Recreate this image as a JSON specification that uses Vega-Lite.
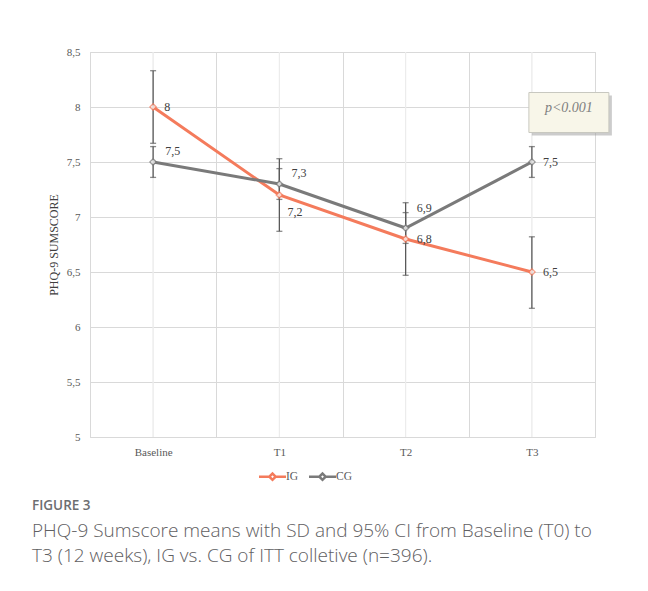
{
  "$schema": "https://vega.github.io/schema/vega-lite/v6.json",
  "width": 505,
  "height": 385,
  "autosize": "none",
  "padding": {"left": 90, "top": 52, "right": 53, "bottom": 154},
  "background": "white",
  "config": {
    "view": {"stroke": "#d9d9d9", "strokeWidth": 1},
    "font": "Liberation Serif",
    "locale": {"number": {"decimal": ",", "thousands": ".", "grouping": [3], "currency": ["", " €"]}}
  },
  "title": {
    "text": "FIGURE 3",
    "subtitle": ["PHQ-9 Sumscore means with SD and 95% CI from Baseline (T0) to", "T3 (12 weeks), IG vs. CG of ITT colletive (n=396)."],
    "orient": "bottom",
    "anchor": "start",
    "frame": "group",
    "dx": -58,
    "offset": 14,
    "font": "Open Sans",
    "fontSize": 13.5,
    "fontWeight": 600,
    "color": "#6d6e71",
    "subtitleFont": "Open Sans",
    "subtitleFontSize": 19,
    "subtitleFontWeight": 300,
    "subtitleColor": "#5f6062",
    "subtitleLineHeight": 25,
    "subtitlePadding": 9
  },
  "data": {
    "values": [
      {"time": "Baseline", "group": "IG", "mean": 8.0, "lower": 7.67, "upper": 8.33},
      {"time": "T1", "group": "IG", "mean": 7.2, "lower": 6.87, "upper": 7.53},
      {"time": "T2", "group": "IG", "mean": 6.8, "lower": 6.47, "upper": 7.13},
      {"time": "T3", "group": "IG", "mean": 6.5, "lower": 6.17, "upper": 6.82},
      {"time": "Baseline", "group": "CG", "mean": 7.5, "lower": 7.36, "upper": 7.64},
      {"time": "T1", "group": "CG", "mean": 7.3, "lower": 7.16, "upper": 7.44},
      {"time": "T2", "group": "CG", "mean": 6.9, "lower": 6.76, "upper": 7.04},
      {"time": "T3", "group": "CG", "mean": 7.5, "lower": 7.36, "upper": 7.64}
    ]
  },
  "layer": [
    {
      "mark": {"type": "rule", "color": "#ececec", "strokeWidth": 1},
      "encoding": {
        "x": {
          "field": "time", "type": "nominal",
          "scale": {"type": "band", "domain": ["Baseline", "T1", "T2", "T3"], "paddingInner": 0, "paddingOuter": 0},
          "axis": {
            "title": null, "tickBand": "extent", "grid": true, "gridColor": "#d9d9d9", "gridWidth": 1,
            "ticks": false, "domain": false, "labelAngle": 0, "labelPadding": 9,
            "labelFont": "Liberation Serif", "labelFontSize": 11, "labelColor": "#595959"
          }
        }
      }
    },
    {
      "mark": {"type": "rule", "color": "#595959", "strokeWidth": 1.3},
      "encoding": {
        "x": {"field": "time", "type": "nominal"},
        "y": {
          "field": "lower", "type": "quantitative",
          "scale": {"domain": [5, 8.5], "nice": false, "zero": false},
          "axis": {
            "title": "PHQ-9 SUMSCORE", "values": [5, 5.5, 6, 6.5, 7, 7.5, 8, 8.5], "format": ".1~f",
            "grid": true, "gridColor": "#d9d9d9", "ticks": false, "domain": false, "labelPadding": 10,
            "labelFont": "Liberation Serif", "labelFontSize": 11, "labelColor": "#595959",
            "titleFont": "Liberation Serif", "titleFontSize": 12, "titleFontWeight": "normal", "titleColor": "#404040", "titlePadding": 6
          }
        },
        "y2": {"field": "upper"}
      }
    },
    {
      "mark": {"type": "tick", "orient": "horizontal", "size": 6, "thickness": 1.3, "color": "#595959"},
      "encoding": {
        "x": {"field": "time", "type": "nominal"},
        "y": {"field": "lower", "type": "quantitative"}
      }
    },
    {
      "mark": {"type": "tick", "orient": "horizontal", "size": 6, "thickness": 1.3, "color": "#595959"},
      "encoding": {
        "x": {"field": "time", "type": "nominal"},
        "y": {"field": "upper", "type": "quantitative"}
      }
    },
    {
      "mark": {"type": "line", "strokeWidth": 3},
      "encoding": {
        "x": {"field": "time", "type": "nominal"},
        "y": {"field": "mean", "type": "quantitative"},
        "color": {
          "field": "group", "type": "nominal",
          "scale": {"domain": ["IG", "CG"], "range": ["#f47b5c", "#7a7a7a"]},
          "legend": {
            "title": null, "orient": "none", "legendX": 172, "legendY": 414, "direction": "horizontal",
            "symbolType": "M-1.5,0H-0.35M0.35,0H1.5M-0.35,0L0,-0.35L0.35,0L0,0.35Z",
            "symbolSize": 324, "symbolStrokeWidth": 2.5, "symbolFillColor": "white",
            "labelFont": "Liberation Serif", "labelFontSize": 11.5, "labelColor": "#595959",
            "labelOffset": 3, "columnPadding": 5
          }
        }
      }
    },
    {
      "mark": {"type": "point", "shape": "diamond", "filled": true, "fill": "white", "size": 42, "strokeWidth": 1.3},
      "encoding": {
        "x": {"field": "time", "type": "nominal"},
        "y": {"field": "mean", "type": "quantitative"},
        "stroke": {
          "field": "group", "type": "nominal",
          "scale": {"domain": ["IG", "CG"], "range": ["#f47b5c", "#7a7a7a"]},
          "legend": null
        }
      }
    },
    {
      "transform": [{"filter": "(datum.group == 'IG' && datum.time != 'T1') || (datum.group == 'CG' && datum.time == 'T3')"}],
      "mark": {"type": "text", "align": "left", "baseline": "middle", "dx": 11, "dy": 0, "fontSize": 12, "color": "#404040", "font": "Liberation Serif"},
      "encoding": {
        "x": {"field": "time", "type": "nominal"},
        "y": {"field": "mean", "type": "quantitative"},
        "text": {"field": "mean", "type": "quantitative", "format": ".1~f"}
      }
    },
    {
      "transform": [{"filter": "datum.group == 'CG' && (datum.time == 'Baseline' || datum.time == 'T1')"}],
      "mark": {"type": "text", "align": "left", "baseline": "middle", "dx": 12, "dy": -11, "fontSize": 12, "color": "#404040", "font": "Liberation Serif"},
      "encoding": {
        "x": {"field": "time", "type": "nominal"},
        "y": {"field": "mean", "type": "quantitative"},
        "text": {"field": "mean", "type": "quantitative", "format": ".1~f"}
      }
    },
    {
      "transform": [{"filter": "datum.group == 'CG' && datum.time == 'T2'"}],
      "mark": {"type": "text", "align": "left", "baseline": "middle", "dx": 11, "dy": -20, "fontSize": 12, "color": "#404040", "font": "Liberation Serif"},
      "encoding": {
        "x": {"field": "time", "type": "nominal"},
        "y": {"field": "mean", "type": "quantitative"},
        "text": {"field": "mean", "type": "quantitative", "format": ".1~f"}
      }
    },
    {
      "transform": [{"filter": "datum.group == 'IG' && datum.time == 'T1'"}],
      "mark": {"type": "text", "align": "left", "baseline": "middle", "dx": 8, "dy": 17, "fontSize": 12, "color": "#404040", "font": "Liberation Serif"},
      "encoding": {
        "x": {"field": "time", "type": "nominal"},
        "y": {"field": "mean", "type": "quantitative"},
        "text": {"field": "mean", "type": "quantitative", "format": ".1~f"}
      }
    },
    {
      "data": {"values": [{"note": "p<0.001"}]},
      "mark": {"type": "point", "shape": "M-1,-0.5H1V0.5H-1Z", "size": 6400, "filled": true, "fill": "#9a9a9a", "opacity": 0.5, "strokeWidth": 0, "xOffset": 40, "yOffset": 3},
      "encoding": {
        "x": {"datum": "T3", "type": "nominal"},
        "y": {"datum": 7.95, "type": "quantitative"}
      }
    },
    {
      "data": {"values": [{"note": "p<0.001"}]},
      "mark": {"type": "point", "shape": "M-1,-0.5H1V0.5H-1Z", "size": 6400, "filled": true, "fill": "#f8f6e9", "stroke": "#c8c8c0", "strokeWidth": 1, "opacity": 1, "xOffset": 37},
      "encoding": {
        "x": {"datum": "T3", "type": "nominal"},
        "y": {"datum": 7.95, "type": "quantitative"}
      }
    },
    {
      "data": {"values": [{"note": "p<0.001"}]},
      "mark": {"type": "text", "fontStyle": "italic", "fontSize": 14, "color": "#7f7f7f", "font": "Liberation Serif", "xOffset": 37, "yOffset": -5, "align": "center", "baseline": "middle"},
      "encoding": {
        "x": {"datum": "T3", "type": "nominal"},
        "y": {"datum": 7.95, "type": "quantitative"},
        "text": {"field": "note", "type": "nominal"}
      }
    }
  ]
}
